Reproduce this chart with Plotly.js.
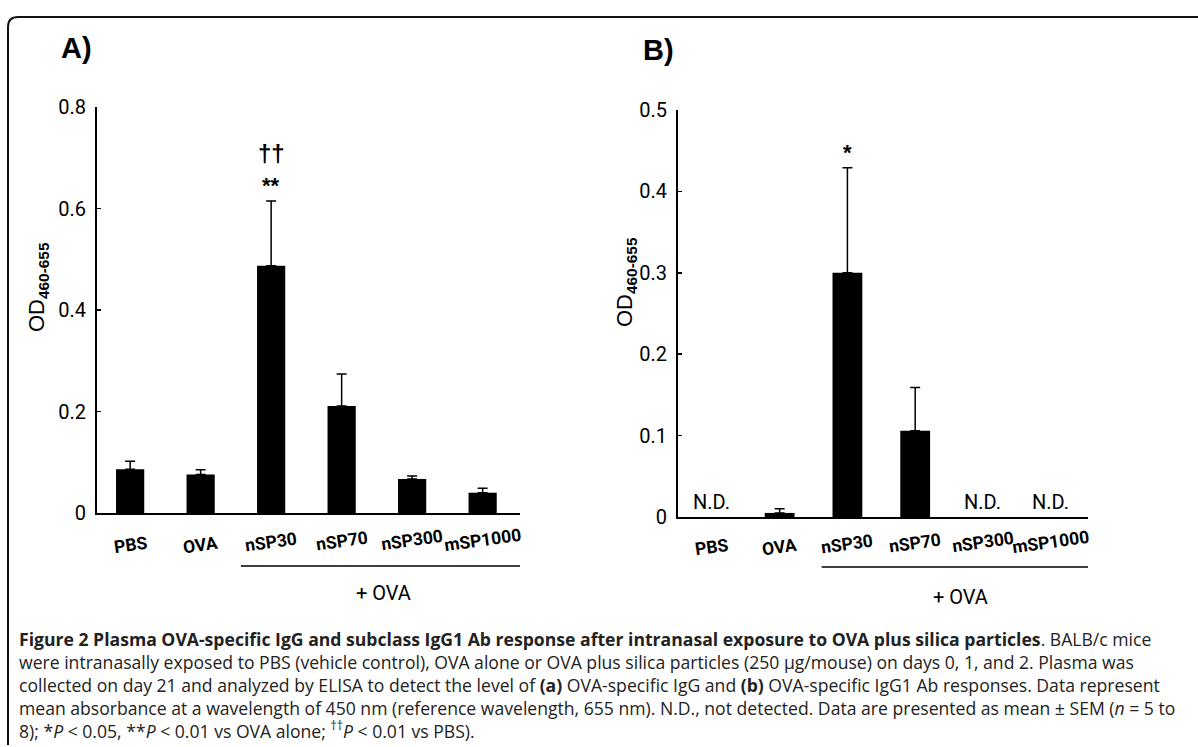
<!DOCTYPE html>
<html>
<head>
<meta charset="utf-8">
<script src="https://cdn.plot.ly/plotly-3.0.1.min.js"></script>
<style>html,body{margin:0;padding:0;background:#fff;}#chart{width:1198px;height:747px;}</style>
</head>
<body>
<div id="chart"></div>
<script>
// ---- data ----
const categories = ['PBS', 'OVA', 'nSP30', 'nSP70', 'nSP300', 'mSP1000'];
const iggMean = [0.086, 0.076, 0.487, 0.211, 0.067, 0.040];
const iggSem = [0.016, 0.009, 0.128, 0.063, 0.006, 0.009];
const igg1Mean = [null, 0.005, 0.300, 0.106, null, null];
const igg1Sem = [null, 0.005, 0.129, 0.053, null, null];
const yTicksA = [0, 0.2, 0.4, 0.6, 0.8];
const yTickTextA = ['0', '0.2', '0.4', '0.6', '0.8'];
const yTicksB = [0, 0.1, 0.2, 0.3, 0.4, 0.5];
const yTickTextB = ['0', '0.1', '0.2', '0.3', '0.4', '0.5'];
const sigA = {nSP30: ['**', '††']};
const sigB = {nSP30: ['*']};
const ndLabel = 'N.D.';
const groupLabel = '+ OVA';
const yTitle = 'OD<sub><b>460-655</b></sub>';

const W = 1198, H = 747;
const px = x => x / W;
const py = y => 1 - y / H;
const narrow = 'Liberation Sans Narrow, Roboto, Liberation Sans, sans-serif';
const arial = 'Liberation Sans, Arial, sans-serif';
const tickFont = {family: narrow, size: 20, color: '#000'};
const capFont = {family: 'Open Sans, Noto Sans, sans-serif', size: 17.6, color: '#222'};

const traces = [
  {type: 'bar', x: categories, y: iggMean, xaxis: 'x', yaxis: 'y', width: 0.4,
   marker: {color: '#000'},
   error_y: {type: 'data', symmetric: false, array: iggSem, arrayminus: iggSem.map(() => 0),
             color: '#000', thickness: 1.5, width: 5},
   hoverinfo: 'skip', showlegend: false},
  {type: 'bar', x: categories, y: igg1Mean, xaxis: 'x2', yaxis: 'y2', width: 0.44,
   marker: {color: '#000'},
   error_y: {type: 'data', symmetric: false, array: igg1Sem, arrayminus: igg1Sem.map(() => 0),
             color: '#000', thickness: 1.5, width: 5},
   hoverinfo: 'skip', showlegend: false}
];

const axisCommon = {showline: true, linecolor: '#000', linewidth: 2, showgrid: false, zeroline: false,
                    tickfont: tickFont, fixedrange: true};

const layout = {
  width: W, height: H, margin: {l: 0, r: 0, t: 0, b: 0},
  paper_bgcolor: '#fff', plot_bgcolor: 'rgba(0,0,0,0)',
  xaxis: Object.assign({}, axisCommon, {domain: [px(97), px(520)], anchor: 'y', type: 'category',
          range: [-0.47, 5.53], ticks: '', showticklabels: false}),
  yaxis: Object.assign({}, axisCommon, {domain: [py(513), py(107)], anchor: 'x', range: [0, 0.8],
          tickvals: yTicksA, ticktext: yTickTextA, ticks: 'inside', ticklen: 4, tickwidth: 1.5, tickcolor: '#000',
          ticklabelstandoff: 5}),
  xaxis2: Object.assign({}, axisCommon, {domain: [px(678), px(1088)], anchor: 'y2', type: 'category',
          range: [-0.5, 5.55], ticks: '', showticklabels: false}),
  yaxis2: Object.assign({}, axisCommon, {domain: [py(517), py(110)], anchor: 'x2', range: [0, 0.5],
          tickvals: yTicksB, ticktext: yTickTextB, ticks: 'inside', ticklen: 4, tickwidth: 1.5, tickcolor: '#000',
          ticklabelstandoff: 5}),
  shapes: [],
  annotations: []
};

// outer rounded frame
const r = 10;
layout.shapes.push({type: 'path', xref: 'paper', yref: 'paper',
  path: `M ${px(8)} ${py(745)} L ${px(8)} ${py(17 + r)} Q ${px(8)} ${py(17)} ${px(8 + r)} ${py(17)} L ${px(1200)} ${py(17)}`,
  line: {color: '#111', width: 2}});

// group underline lines (+ OVA)
layout.shapes.push({type: 'line', xref: 'x', yref: 'paper', x0: 1.57, x1: 5.53, y0: py(566), y1: py(566),
  line: {color: '#000', width: 1.5}});
layout.shapes.push({type: 'line', xref: 'x2', yref: 'paper', x0: 1.62, x1: 5.72, y0: py(567), y1: py(567),
  line: {color: '#000', width: 1.5}});

const ann = layout.annotations;

// category labels (slightly tilted, centred under bars)
const labelYA = [545, 545, 542, 541, 540, 540];
const labelYB = [547, 547, 544, 543, 542, 542];
categories.forEach((c, i) => {
  ann.push({xref: 'x', yref: 'paper', x: c, y: py(labelYA[i]), xanchor: 'center', yanchor: 'middle',
    text: '<b>' + c + '</b>', textangle: -8, showarrow: false, font: {family: narrow, size: 17.5, color: '#000'}});
  ann.push({xref: 'x2', yref: 'paper', x: c, y: py(labelYB[i]), xanchor: 'center', yanchor: 'middle',
    text: '<b>' + c + '</b>', textangle: -8, showarrow: false, font: {family: narrow, size: 17.5, color: '#000'}});
});

ann.push({xref: 'x', yref: 'paper', x: 3.6, y: py(593), xanchor: 'center', yanchor: 'middle', text: groupLabel, showarrow: false,
  font: {family: narrow, size: 20, color: '#000'}});
ann.push({xref: 'x2', yref: 'paper', x: 3.67, y: py(597), xanchor: 'center', yanchor: 'middle', text: groupLabel, showarrow: false,
  font: {family: narrow, size: 20, color: '#000'}});

// panel letters
ann.push({xref: 'paper', yref: 'paper', x: px(59), y: py(48), xanchor: 'left', yanchor: 'middle', text: '<b>A)</b>', showarrow: false,
  font: {family: arial, size: 29, color: '#000'}});
ann.push({xref: 'paper', yref: 'paper', x: px(641), y: py(50), xanchor: 'left', yanchor: 'middle', text: '<b>B)</b>', showarrow: false,
  font: {family: arial, size: 29, color: '#000'}});

// y titles
ann.push({xref: 'paper', yref: 'paper', x: px(38), y: py(287), xanchor: 'center', yanchor: 'middle', text: yTitle, textangle: -90, showarrow: false,
  font: {family: arial, size: 22, color: '#000'}});
ann.push({xref: 'paper', yref: 'paper', x: px(626), y: py(282), xanchor: 'center', yanchor: 'middle', text: yTitle, textangle: -90, showarrow: false,
  font: {family: arial, size: 22, color: '#000'}});

// significance marks
function addSig(sig, means, sems, xr, yr) {
  Object.keys(sig).forEach(cat => {
    const i = categories.indexOf(cat);
    const top = means[i] + sems[i];
    sig[cat].forEach((s, k) => {
      ann.push({xref: xr, yref: yr, x: cat, y: top, yanchor: 'middle', yshift: 15 + k * 32, text: '<b>' + s + '</b>',
        showarrow: false, font: {family: arial, size: k === 0 ? 22 : 24, color: '#000'}});
    });
  });
}
addSig(sigA, iggMean, iggSem, 'x', 'y');
addSig(sigB, igg1Mean, igg1Sem, 'x2', 'y2');

// N.D. labels where values are missing
categories.forEach((c, i) => {
  if (igg1Mean[i] === null) {
    ann.push({xref: 'x2', yref: 'y2', x: c, y: 0, yanchor: 'middle', yshift: 15, text: ndLabel, showarrow: false,
      font: {family: narrow, size: 20, color: '#000'}});
  }
});

// caption (one multi-line text block)
const captionLines = [
  '<b>Figure 2 Plasma OVA-specific IgG and subclass IgG1 Ab response after intranasal exposure to OVA plus silica particles</b>. BALB/c mice',
  'were intranasally exposed to PBS (vehicle control), OVA alone or OVA plus silica particles (250 µg/mouse) on days 0, 1, and 2. Plasma was',
  'collected on day 21 and analyzed by ELISA to detect the level of <b>(a)</b> OVA-specific IgG and <b>(b)</b> OVA-specific IgG1 Ab responses. Data represent',
  'mean absorbance at a wavelength of 450 nm (reference wavelength, 655 nm). N.D., not detected. Data are presented as mean ± SEM (<i>n</i> = 5 to',
  '8); *<i>P</i> &lt; 0.05, **<i>P</i> &lt; 0.01 vs OVA alone; <sup>††</sup><i>P</i> &lt; 0.01 vs PBS).'
];
ann.push({xref: 'paper', yref: 'paper', x: px(17), y: py(685), xanchor: 'left', yanchor: 'middle', align: 'left',
  text: captionLines.join('<br>'), showarrow: false, font: capFont});

Plotly.newPlot('chart', traces, layout, {displayModeBar: false, staticPlot: true});
</script>
</body>
</html>
